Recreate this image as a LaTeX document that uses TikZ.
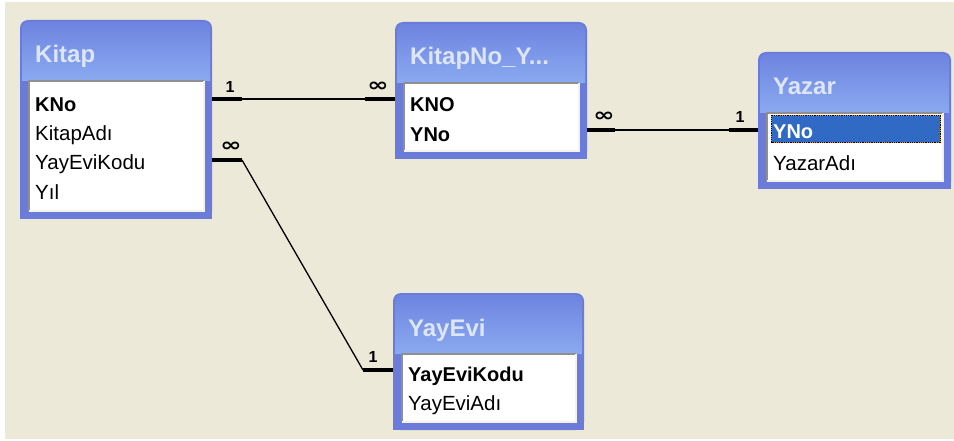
\documentclass[tikz,border=0pt]{standalone}
\usepackage{fontspec}
\setmainfont{Liberation Sans}
\newfontfamily\symfont{DejaVu Sans}
\definecolor{bg}{HTML}{ECE9D8}
\definecolor{tblblue}{HTML}{6A7BDA}
\definecolor{ttop}{HTML}{6E84E0}
\definecolor{tbot}{HTML}{8AAAF0}
\definecolor{titletext}{HTML}{DCE6F8}
\definecolor{hilite}{HTML}{316AC5}
\definecolor{sunkd}{HTML}{8F8F8F}
\definecolor{sunkl}{HTML}{F4F2EA}
\definecolor{focus}{HTML}{D89A28}
\newcommand\fieldfont{\fontsize{20.5}{24}\selectfont}
\newcommand\keyfont{\fontsize{20}{24}\selectfont\bfseries}
\newcommand\titlefont{\fontsize{24}{28}\selectfont\bfseries}
\newcommand\cardfont{\fontsize{16}{18}\selectfont\bfseries}
\newcommand\manysym{{\symfont\bfseries\fontsize{17}{17}\selectfont\scalebox{1.5}[1.1]{∞}}}
\tikzset{
  tblbox/.style={anchor=north west, fill=tblblue, rounded corners=8pt, inner sep=0pt, outer sep=0pt},
  listbox/.style={anchor=north west, fill=white, inner sep=0pt, outer sep=0pt},
  sunkdark/.style={draw=sunkd, line width=1.5pt},
  sunklight/.style={draw=sunkl, line width=1.5pt},
  ttl/.style={anchor=base west, inner sep=0pt, font=\titlefont, text=titletext},
  field/.style={anchor=base west, inner sep=0pt, font=\fieldfont},
  keyfield/.style={anchor=base west, inner sep=0pt, font=\keyfont},
  card/.style={anchor=center, inner sep=0pt, font=\cardfont},
  thickend/.style={line width=4pt},
  rel/.style={line width=1.3pt},
}
\newcommand\dbtable[6]{%
  \node[tblbox, minimum width={#4-#2}, minimum height={#5-#3}] (#1) at (#2,#3) {};
  \fill[tblblue] ([yshift=20pt]#1.south west) rectangle (#1.south east);
  \shade[top color=ttop, bottom color=tbot, rounded corners=6pt]
    ({#2+2},{#3+61}) -- ({#2+2},{#3+2}) -- ({#4-2},{#3+2}) -- ({#4-2},{#3+61});
  \node[listbox, minimum width={#4-#2-17}, minimum height={#5-#3-69}] (#1-list) at ({#2+9},{#3+61}) {};
  \draw[sunkdark] (#1-list.south west) -- (#1-list.north west) -- (#1-list.north east);
  \draw[sunklight] (#1-list.north east) -- (#1-list.south east) -- (#1-list.south west);
  \node[ttl] (#1-title) at ({#2+15},{#3+43}) {#6};
}
\begin{document}
\begin{tikzpicture}[x=1pt,y=-1pt]
\useasboundingbox (0,0) rectangle (954,441);
\fill[white] (0,0) rectangle (954,441);
\fill[bg] (5,2) rectangle (954,439);

\dbtable{kitap}{20}{20}{212}{219}{Kitap}
\dbtable{kno}{395}{22}{587}{159}{KitapNo\_Y...}
\dbtable{yazar}{758}{52}{951}{189}{Yazar}
\dbtable{yayevi}{393}{293}{584}{430}{YayEvi}

% fields
\node[keyfield] (f-kno) at (35,112) {KNo};
\node[field] (f-kadi) at (35,141) {KitapAdı};
\node[field] (f-kyek) at (35,170) {YayEviKodu};
\node[field] (f-yil) at (35,200) {Yıl};

\node[keyfield] (f-kn2) at (410,112) {KNO};
\node[keyfield] (f-yno) at (410,142) {YNo};

\fill[hilite] (771,115) rectangle (941,143);
\draw[focus, line width=0.8pt] (771.5,115.5) rectangle (940.5,142.5);
\draw[black, line width=0.8pt, densely dotted] (771.5,115.5) rectangle (940.5,142.5);
\node[keyfield, text=white] (f-yyno) at (773,139) {YNo};
\node[field] (f-yadi) at (773,171) {YazarAdı};

\node[keyfield] (f-yek) at (408,381) {YayEviKodu};
\node[field] (f-yeadi) at (408,410) {YayEviAdı};

% connection points
\coordinate (c1a) at (kitap.east |- 0,99);
\coordinate (c1b) at (kno.west |- 0,99);
\coordinate (c2a) at (kitap.east |- 0,160);
\coordinate (c2b) at (yayevi.west |- 0,370);
\coordinate (c3a) at (kno.east |- 0,130);
\coordinate (c3b) at (yazar.west |- 0,130);

\draw[thickend] (c1a) -- ++(30,0) coordinate (c1a2);
\draw[thickend] (c1b) -- ++(-30,0) coordinate (c1b2);
\draw[rel] (c1a2) -- (c1b2);

\draw[thickend] (c2a) -- ++(30,0) coordinate (c2a2);
\draw[thickend] (c2b) -- ++(-30,0) coordinate (c2b2);
\draw[rel] (c2a2) -- (c2b2);

\draw[thickend] (c3a) -- ++(28,0) coordinate (c3a2);
\draw[thickend] (c3b) -- ++(-29,0) coordinate (c3b2);
\draw[rel] (c3a2) -- (c3b2);

% cardinalities
\node[card] (l1a) at (230,87) {1};
\node[card] (l1b) at (378,87) {\manysym};
\node[card] (l2a) at (231,147) {\manysym};
\node[card] (l2b) at (373,357) {1};
\node[card] (l3a) at (604,117) {\manysym};
\node[card] (l3b) at (740,117) {1};
\end{tikzpicture}
\end{document}
